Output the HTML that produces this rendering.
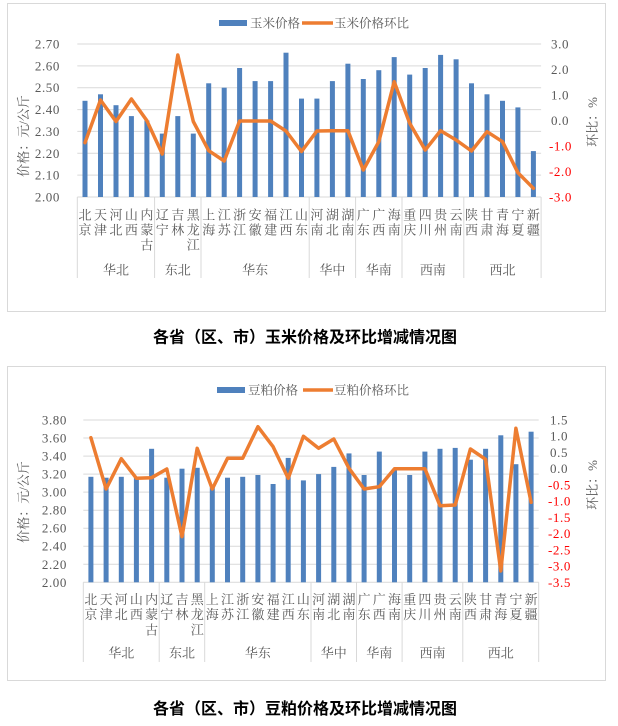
<!DOCTYPE html>
<html><head><meta charset="utf-8"><style>
html,body{margin:0;padding:0;background:#fff;}
svg{display:block;}
.tk{font-family:"Liberation Serif","Noto Serif CJK SC",serif;font-size:13px;fill:#595959;letter-spacing:0.6px;}
.tr{font-family:"Liberation Serif","Noto Serif CJK SC",serif;font-size:13px;fill:#FF0000;letter-spacing:0.6px;}
.cj{font-family:"Liberation Serif","Noto Serif CJK SC",serif;font-size:13px;fill:#595959;text-anchor:middle;}
.lg{font-family:"Liberation Serif","Noto Serif CJK SC",serif;font-size:12.5px;fill:#595959;}
.ti{font-family:"Liberation Sans","Noto Sans CJK SC",sans-serif;font-size:16px;font-weight:bold;fill:#000;text-anchor:middle;}
.g{stroke:#D9D9D9;stroke-width:1;}
.b{fill:#4F81BD;}
.ln{fill:none;stroke:#ED7D31;stroke-width:3.5;stroke-linejoin:round;stroke-linecap:round;}
</style></head><body>
<svg width="618" height="726" viewBox="0 0 618 726" xmlns="http://www.w3.org/2000/svg">
<rect x="0" y="0" width="618" height="726" fill="#fff"/>

<!-- ================= TOP CHART ================= -->
<rect x="7.5" y="3.5" width="598" height="308" fill="#fff" stroke="#D9D9D9" stroke-width="1"/>
<!-- legend -->
<rect x="219" y="20" width="28" height="6" fill="#4F81BD"/>
<text class="lg" x="250" y="27.5">玉米价格</text>
<line x1="302" y1="23" x2="333" y2="23" stroke="#ED7D31" stroke-width="3.5"/>
<text class="lg" x="334" y="27.5">玉米价格环比</text>
<!-- grid -->
<g class="g">
<line x1="77.3" y1="44" x2="541.1" y2="44"/>
<line x1="77.3" y1="65.9" x2="541.1" y2="65.9"/>
<line x1="77.3" y1="87.7" x2="541.1" y2="87.7"/>
<line x1="77.3" y1="109.6" x2="541.1" y2="109.6"/>
<line x1="77.3" y1="131.4" x2="541.1" y2="131.4"/>
<line x1="77.3" y1="153.3" x2="541.1" y2="153.3"/>
<line x1="77.3" y1="175.1" x2="541.1" y2="175.1"/>
<line x1="77.3" y1="197" x2="541.1" y2="197"/>
<line x1="77.3" y1="197" x2="77.3" y2="278"/>
<line x1="154.6" y1="197" x2="154.6" y2="278"/>
<line x1="201" y1="197" x2="201" y2="278"/>
<line x1="309.2" y1="197" x2="309.2" y2="278"/>
<line x1="355.6" y1="197" x2="355.6" y2="278"/>
<line x1="402" y1="197" x2="402" y2="278"/>
<line x1="463.8" y1="197" x2="463.8" y2="278"/>
<line x1="541.1" y1="197" x2="541.1" y2="278"/>
</g>
<!-- left ticks -->
<g class="tk" text-anchor="end">
<text x="60" y="48.5">2.70</text>
<text x="60" y="70.4">2.60</text>
<text x="60" y="92.2">2.50</text>
<text x="60" y="114.1">2.40</text>
<text x="60" y="135.9">2.30</text>
<text x="60" y="157.8">2.20</text>
<text x="60" y="179.6">2.10</text>
<text x="60" y="201.5">2.00</text>
</g>
<!-- right ticks -->
<text class="tk" x="551" y="48.5">3.0</text>
<text class="tk" x="551" y="74">2.0</text>
<text class="tk" x="551" y="99.5">1.0</text>
<text class="tk" x="551" y="125">0.0</text>
<text class="tr" x="549" y="150.5">-1.0</text>
<text class="tr" x="549" y="176">-2.0</text>
<text class="tr" x="549" y="201.5">-3.0</text>
<!-- axis titles -->
<text class="cj" transform="translate(28,136) rotate(-90)">价格：元/公斤</text>
<text class="cj" transform="translate(597,122) rotate(-90)">环比：%</text>
<!-- bars -->
<g class="b">
<rect x="82.5" y="100.8" width="5" height="96.2"/>
<rect x="98" y="94.3" width="5" height="102.7"/>
<rect x="113.5" y="105.2" width="5" height="91.8"/>
<rect x="128.9" y="116.1" width="5" height="80.9"/>
<rect x="144.4" y="120.5" width="5" height="76.5"/>
<rect x="159.8" y="133.6" width="5" height="63.4"/>
<rect x="175.3" y="116.1" width="5" height="80.9"/>
<rect x="190.8" y="133.6" width="5" height="63.4"/>
<rect x="206.2" y="83.3" width="5" height="113.7"/>
<rect x="221.7" y="87.7" width="5" height="109.3"/>
<rect x="237.1" y="68" width="5" height="129"/>
<rect x="252.6" y="81.1" width="5" height="115.9"/>
<rect x="268.1" y="81.1" width="5" height="115.9"/>
<rect x="283.5" y="52.7" width="5" height="144.3"/>
<rect x="299" y="98.6" width="5" height="98.4"/>
<rect x="314.4" y="98.6" width="5" height="98.4"/>
<rect x="329.9" y="81.1" width="5" height="115.9"/>
<rect x="345.4" y="63.7" width="5" height="133.3"/>
<rect x="360.8" y="79" width="5" height="118"/>
<rect x="376.3" y="70.2" width="5" height="126.8"/>
<rect x="391.7" y="57.1" width="5" height="139.9"/>
<rect x="407.2" y="74.6" width="5" height="122.4"/>
<rect x="422.7" y="68" width="5" height="129"/>
<rect x="438.1" y="54.9" width="5" height="142.1"/>
<rect x="453.6" y="59.3" width="5" height="137.7"/>
<rect x="469" y="83.3" width="5" height="113.7"/>
<rect x="484.5" y="94.3" width="5" height="102.7"/>
<rect x="500" y="100.8" width="5" height="96.2"/>
<rect x="515.4" y="107.4" width="5" height="89.6"/>
<rect x="530.9" y="151.1" width="5" height="45.9"/>
</g>
<!-- line -->
<polyline class="ln" points="85,142.7 100.5,100 116,121.5 131.4,99 146.9,120.7 162.3,154 177.8,55 193.3,121.5 208.7,150.7 224.2,161 239.6,121 255.1,121 270.6,121 286,131 301.5,151.5 316.9,131 332.4,130.7 347.9,130.7 363.3,170 378.8,141.7 394.2,81.7 409.7,123.3 425.2,150 440.6,130.7 456.1,140 471.5,151 487,131.7 502.5,141.7 517.9,172.7 533.4,188.3"/>
<!-- category labels -->
<g class="cj">
<text x="85" y="219.6">北</text><text x="85" y="234.6">京</text>
<text x="100.5" y="219.6">天</text><text x="100.5" y="234.6">津</text>
<text x="116" y="219.6">河</text><text x="116" y="234.6">北</text>
<text x="131.4" y="219.6">山</text><text x="131.4" y="234.6">西</text>
<text x="146.9" y="219.6">内</text><text x="146.9" y="234.6">蒙</text><text x="146.9" y="249.6">古</text>
<text x="162.3" y="219.6">辽</text><text x="162.3" y="234.6">宁</text>
<text x="177.8" y="219.6">吉</text><text x="177.8" y="234.6">林</text>
<text x="193.3" y="219.6">黑</text><text x="193.3" y="234.6">龙</text><text x="193.3" y="249.6">江</text>
<text x="208.7" y="219.6">上</text><text x="208.7" y="234.6">海</text>
<text x="224.2" y="219.6">江</text><text x="224.2" y="234.6">苏</text>
<text x="239.6" y="219.6">浙</text><text x="239.6" y="234.6">江</text>
<text x="255.1" y="219.6">安</text><text x="255.1" y="234.6">徽</text>
<text x="270.6" y="219.6">福</text><text x="270.6" y="234.6">建</text>
<text x="286" y="219.6">江</text><text x="286" y="234.6">西</text>
<text x="301.5" y="219.6">山</text><text x="301.5" y="234.6">东</text>
<text x="316.9" y="219.6">河</text><text x="316.9" y="234.6">南</text>
<text x="332.4" y="219.6">湖</text><text x="332.4" y="234.6">北</text>
<text x="347.9" y="219.6">湖</text><text x="347.9" y="234.6">南</text>
<text x="363.3" y="219.6">广</text><text x="363.3" y="234.6">东</text>
<text x="378.8" y="219.6">广</text><text x="378.8" y="234.6">西</text>
<text x="394.2" y="219.6">海</text><text x="394.2" y="234.6">南</text>
<text x="409.7" y="219.6">重</text><text x="409.7" y="234.6">庆</text>
<text x="425.2" y="219.6">四</text><text x="425.2" y="234.6">川</text>
<text x="440.6" y="219.6">贵</text><text x="440.6" y="234.6">州</text>
<text x="456.1" y="219.6">云</text><text x="456.1" y="234.6">南</text>
<text x="471.5" y="219.6">陕</text><text x="471.5" y="234.6">西</text>
<text x="487" y="219.6">甘</text><text x="487" y="234.6">肃</text>
<text x="502.5" y="219.6">青</text><text x="502.5" y="234.6">海</text>
<text x="517.9" y="219.6">宁</text><text x="517.9" y="234.6">夏</text>
<text x="533.4" y="219.6">新</text><text x="533.4" y="234.6">疆</text>
<text x="116" y="274.6">华北</text>
<text x="177.8" y="274.6">东北</text>
<text x="255.1" y="274.6">华东</text>
<text x="332.4" y="274.6">华中</text>
<text x="378.8" y="274.6">华南</text>
<text x="432.9" y="274.6">西南</text>
<text x="502.5" y="274.6">西北</text>
</g>
<text class="ti" x="305" y="342.5">各省（区、市）玉米价格及环比增减情况图</text>

<!-- ================= BOTTOM CHART ================= -->
<rect x="7.5" y="366.5" width="598" height="314" fill="#fff" stroke="#D9D9D9" stroke-width="1"/>
<rect x="217" y="387" width="28" height="6" fill="#4F81BD"/>
<text class="lg" x="248" y="394.5">豆粕价格</text>
<line x1="303" y1="390" x2="333" y2="390" stroke="#ED7D31" stroke-width="3.5"/>
<text class="lg" x="334" y="394.5">豆粕价格环比</text>
<g class="g">
<line x1="83.3" y1="420" x2="538.7" y2="420"/>
<line x1="83.3" y1="438" x2="538.7" y2="438"/>
<line x1="83.3" y1="456.1" x2="538.7" y2="456.1"/>
<line x1="83.3" y1="474.1" x2="538.7" y2="474.1"/>
<line x1="83.3" y1="492.1" x2="538.7" y2="492.1"/>
<line x1="83.3" y1="510.2" x2="538.7" y2="510.2"/>
<line x1="83.3" y1="528.2" x2="538.7" y2="528.2"/>
<line x1="83.3" y1="546.2" x2="538.7" y2="546.2"/>
<line x1="83.3" y1="564.3" x2="538.7" y2="564.3"/>
<line x1="83.3" y1="582.3" x2="538.7" y2="582.3"/>
<line x1="83.3" y1="582.3" x2="83.3" y2="662"/>
<line x1="159.2" y1="582.3" x2="159.2" y2="662"/>
<line x1="204.7" y1="582.3" x2="204.7" y2="662"/>
<line x1="311" y1="582.3" x2="311" y2="662"/>
<line x1="356.5" y1="582.3" x2="356.5" y2="662"/>
<line x1="402.1" y1="582.3" x2="402.1" y2="662"/>
<line x1="462.8" y1="582.3" x2="462.8" y2="662"/>
<line x1="538.7" y1="582.3" x2="538.7" y2="662"/>
</g>
<g class="tk" text-anchor="end">
<text x="67" y="424.5">3.80</text>
<text x="67" y="442.5">3.60</text>
<text x="67" y="460.6">3.40</text>
<text x="67" y="478.6">3.20</text>
<text x="67" y="496.6">3.00</text>
<text x="67" y="514.7">2.80</text>
<text x="67" y="532.7">2.60</text>
<text x="67" y="550.7">2.40</text>
<text x="67" y="568.8">2.20</text>
<text x="67" y="586.8">2.00</text>
</g>
<text class="tk" x="550" y="424.5">1.5</text>
<text class="tk" x="550" y="440.7">1.0</text>
<text class="tk" x="550" y="457">0.5</text>
<text class="tk" x="550" y="473.2">0.0</text>
<text class="tr" x="548" y="489.4">-0.5</text>
<text class="tr" x="548" y="505.7">-1.0</text>
<text class="tr" x="548" y="521.9">-1.5</text>
<text class="tr" x="548" y="538.1">-2.0</text>
<text class="tr" x="548" y="554.3">-2.5</text>
<text class="tr" x="548" y="570.6">-3.0</text>
<text class="tr" x="548" y="586.8">-3.5</text>
<text class="cj" transform="translate(28,502) rotate(-90)">价格：元/公斤</text>
<text class="cj" transform="translate(597,485) rotate(-90)">环比：%</text>
<g class="b">
<rect x="88.4" y="476.8" width="5" height="105.5"/>
<rect x="103.6" y="477.7" width="5" height="104.6"/>
<rect x="118.8" y="476.8" width="5" height="105.5"/>
<rect x="133.9" y="477.7" width="5" height="104.6"/>
<rect x="149.1" y="448.8" width="5" height="133.5"/>
<rect x="164.3" y="477.7" width="5" height="104.6"/>
<rect x="179.5" y="468.7" width="5" height="113.6"/>
<rect x="194.7" y="467.8" width="5" height="114.5"/>
<rect x="209.8" y="487.5" width="5" height="94.8"/>
<rect x="225" y="477.7" width="5" height="104.6"/>
<rect x="240.2" y="476.8" width="5" height="105.5"/>
<rect x="255.4" y="475" width="5" height="107.3"/>
<rect x="270.6" y="484" width="5" height="98.3"/>
<rect x="285.7" y="457.9" width="5" height="124.4"/>
<rect x="300.9" y="480.4" width="5" height="101.9"/>
<rect x="316.1" y="474.1" width="5" height="108.2"/>
<rect x="331.3" y="466.9" width="5" height="115.4"/>
<rect x="346.5" y="453.4" width="5" height="128.9"/>
<rect x="361.6" y="475" width="5" height="107.3"/>
<rect x="376.8" y="451.6" width="5" height="130.7"/>
<rect x="392" y="470.5" width="5" height="111.8"/>
<rect x="407.2" y="475" width="5" height="107.3"/>
<rect x="422.4" y="451.6" width="5" height="130.7"/>
<rect x="437.5" y="448.8" width="5" height="133.5"/>
<rect x="452.7" y="447.9" width="5" height="134.4"/>
<rect x="467.9" y="459.7" width="5" height="122.6"/>
<rect x="483.1" y="448.8" width="5" height="133.5"/>
<rect x="498.3" y="435.3" width="5" height="147"/>
<rect x="513.4" y="464.2" width="5" height="118.1"/>
<rect x="528.6" y="431.7" width="5" height="150.6"/>
</g>
<polyline class="ln" points="90.9,437.7 106.1,489 121.3,458.7 136.4,478.3 151.6,477.7 166.8,469 182,536.7 197.2,448.3 212.3,489 227.5,458.3 242.7,458.3 257.9,426.7 273.1,446.7 288.2,478.3 303.4,436.3 318.6,448.3 333.8,439 349,468.3 364.1,489 379.3,486.7 394.5,468.7 409.7,468.7 424.9,468.7 440,505.7 455.2,505 470.4,449 485.6,459.3 500.8,571 515.9,428.3 531.1,502.3"/>
<g class="cj">
<text x="90.9" y="604.1">北</text><text x="90.9" y="619.1">京</text>
<text x="106.1" y="604.1">天</text><text x="106.1" y="619.1">津</text>
<text x="121.3" y="604.1">河</text><text x="121.3" y="619.1">北</text>
<text x="136.4" y="604.1">山</text><text x="136.4" y="619.1">西</text>
<text x="151.6" y="604.1">内</text><text x="151.6" y="619.1">蒙</text><text x="151.6" y="634.6">古</text>
<text x="166.8" y="604.1">辽</text><text x="166.8" y="619.1">宁</text>
<text x="182" y="604.1">吉</text><text x="182" y="619.1">林</text>
<text x="197.2" y="604.1">黑</text><text x="197.2" y="619.1">龙</text><text x="197.2" y="634.6">江</text>
<text x="212.3" y="604.1">上</text><text x="212.3" y="619.1">海</text>
<text x="227.5" y="604.1">江</text><text x="227.5" y="619.1">苏</text>
<text x="242.7" y="604.1">浙</text><text x="242.7" y="619.1">江</text>
<text x="257.9" y="604.1">安</text><text x="257.9" y="619.1">徽</text>
<text x="273.1" y="604.1">福</text><text x="273.1" y="619.1">建</text>
<text x="288.2" y="604.1">江</text><text x="288.2" y="619.1">西</text>
<text x="303.4" y="604.1">山</text><text x="303.4" y="619.1">东</text>
<text x="318.6" y="604.1">河</text><text x="318.6" y="619.1">南</text>
<text x="333.8" y="604.1">湖</text><text x="333.8" y="619.1">北</text>
<text x="349" y="604.1">湖</text><text x="349" y="619.1">南</text>
<text x="364.1" y="604.1">广</text><text x="364.1" y="619.1">东</text>
<text x="379.3" y="604.1">广</text><text x="379.3" y="619.1">西</text>
<text x="394.5" y="604.1">海</text><text x="394.5" y="619.1">南</text>
<text x="409.7" y="604.1">重</text><text x="409.7" y="619.1">庆</text>
<text x="424.9" y="604.1">四</text><text x="424.9" y="619.1">川</text>
<text x="440" y="604.1">贵</text><text x="440" y="619.1">州</text>
<text x="455.2" y="604.1">云</text><text x="455.2" y="619.1">南</text>
<text x="470.4" y="604.1">陕</text><text x="470.4" y="619.1">西</text>
<text x="485.6" y="604.1">甘</text><text x="485.6" y="619.1">肃</text>
<text x="500.8" y="604.1">青</text><text x="500.8" y="619.1">海</text>
<text x="515.9" y="604.1">宁</text><text x="515.9" y="619.1">夏</text>
<text x="531.1" y="604.1">新</text><text x="531.1" y="619.1">疆</text>
<text x="121.3" y="657.6">华北</text>
<text x="182" y="657.6">东北</text>
<text x="257.9" y="657.6">华东</text>
<text x="333.8" y="657.6">华中</text>
<text x="379.3" y="657.6">华南</text>
<text x="432.5" y="657.6">西南</text>
<text x="500.8" y="657.6">西北</text>
</g>
<text class="ti" x="305" y="714">各省（区、市）豆粕价格及环比增减情况图</text>
</svg>
</body></html>
